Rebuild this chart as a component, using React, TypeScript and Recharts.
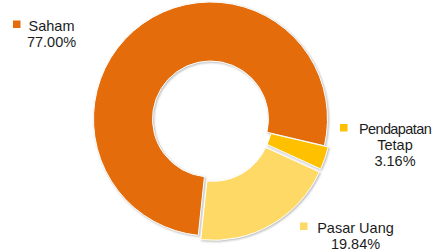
import { PieChart, Pie, Cell, Sector } from "recharts";

// portfolio allocation
const categories = ["Saham", "Pendapatan Tetap", "Pasar Uang"];
const shares = [77.0, 3.16, 19.84];

const colors = ["#E46C0A", "#FFC000", "#FFD966"];
// how far each slice is pulled out of the ring (px)
const explode = [0, 4, 5];

// where the data labels sit: text centre x, first baseline, key square
const labelLayout = [
  { x: 51.5, y: 30.5, keyX: 13, keyY: 20.5, wrap: false, spacing: 0 },
  { x: 395, y: 133.5, keyX: 340, keyY: 124, wrap: true, spacing: -0.6 },
  { x: 355.5, y: 232.5, keyX: 300, keyY: 222.5, wrap: false, spacing: 0 },
];

const data = categories.map((name, i) => ({ name, value: shares[i] }));

const FONT = "'Liberation Sans', Arial, Helvetica, sans-serif";

const SliceShape = (props: any) => {
  const idx = categories.indexOf(props.name ?? props.payload?.name);
  const d = idx >= 0 ? explode[idx] : 0;
  const rad = (-props.midAngle * Math.PI) / 180;
  return (
    <g style={{ filter: "drop-shadow(1px 1.5px 1px rgba(0,0,0,0.28))" }}>
      <Sector
        {...props}
        cx={props.cx + d * Math.cos(rad)}
        cy={props.cy + d * Math.sin(rad)}
      />
    </g>
  );
};

const renderLabel = (props: any) => {
  const name = props.name ?? props.payload?.name;
  const i = categories.indexOf(name);
  if (i < 0) return null;
  const pos = labelLayout[i];
  const lines = pos.wrap ? name.split(" ") : [name];
  lines.push(`${shares[i].toFixed(2)}%`);

  return (
    <g>
      <rect x={pos.keyX} y={pos.keyY} width={7.5} height={7.5} fill={colors[i]} />
      {lines.map((t: string, j: number) => (
        <text
          key={j}
          x={pos.x}
          y={pos.y + j * 16.2}
          textAnchor="middle"
          fontSize={14.5}
          fontFamily={FONT}
          fill="#1c1c1c"
          letterSpacing={j === 0 ? pos.spacing : 0}
        >
          {t}
        </text>
      ))}
    </g>
  );
};

export default function App() {
  return (
    <div
      style={{
        position: "absolute",
        left: 0,
        top: 0,
        width: 435,
        height: 252,
        overflow: "hidden",
        background: "#fff",
      }}
    >
      <PieChart width={435} height={252} margin={{ top: 0, right: 0, bottom: 0, left: 0 }}>
        <Pie
          data={data}
          dataKey="value"
          nameKey="name"
          cx={210.5}
          cy={119}
          innerRadius={58}
          outerRadius={117}
          startAngle={264}
          endAngle={-96}
          stroke="#ffffff"
          strokeWidth={1}
          shape={SliceShape}
          label={renderLabel}
          labelLine={false}
          isAnimationActive={false}
        >
          {data.map((d, i) => (
            <Cell key={d.name} fill={colors[i]} />
          ))}
        </Pie>
      </PieChart>
    </div>
  );
}
